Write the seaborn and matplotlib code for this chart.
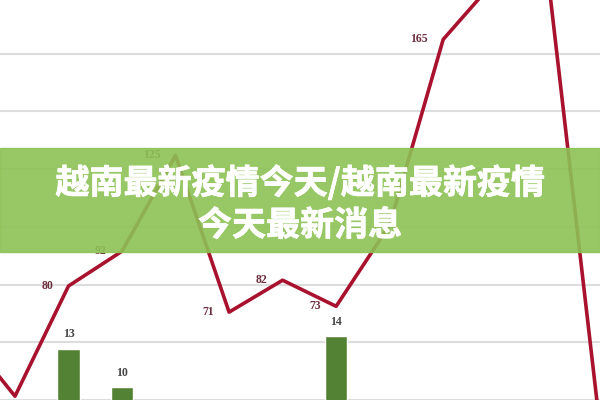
import matplotlib
matplotlib.use("Agg")
import matplotlib.pyplot as plt
import matplotlib.patheffects as pe
import seaborn as sns
import pandas as pd

##############
# data
##############
idx = list(range(13))
cases = [65, 42, 80, 92, 125, 71, 82, 73, 101, 165, 186, 180, 20]
case_labels = ['', '', '80', '92', '125', '71', '82', '73', '', '165', '', '', '']
deaths = [0, 0, 13, 10, 0, 0, 0, 14, 0, 0, 0, 0, 0]
death_labels = ['', '', '13', '10', '', '', '', '14', '', '', '', '', '']

title_1 = "越南最新疫情今天/越南最新疫情"
title_2 = "今天最新消息"

df = pd.DataFrame({'idx': idx, 'cases': cases, 'deaths': deaths})

##############
# plot
##############
sns.set_style("white")
plt.rcParams['font.family'] = ['Noto Sans CJK SC', 'DejaVu Sans']

fig = plt.figure(figsize=(6, 4), dpi=100)
ax = fig.add_axes([0, 0, 1, 1])
ax2 = ax.twinx()

# bars on secondary axis (grid lives here so bars sit on top of it)
sns.barplot(x='idx', y='deaths', data=df, ax=ax2, color='#548235',
            width=0.42, saturation=1, order=idx, zorder=3)
for i, lab in enumerate(death_labels):
    if lab:
        ax2.annotate(lab, (i, deaths[i]), xytext=(0, 6), textcoords='offset points',
                     ha='center', va='bottom', fontsize=8.5, color='#444444',
                     family='Liberation Serif', fontweight='bold')
ax2.set_ylim(9.1575, 40.185)
ax2.set_yticks([9, 13.5, 18, 22.5, 27, 31.5, 36])
ax2.yaxis.grid(True, color='#DDDDDD', linewidth=1.5, zorder=0)
ax2.set_axisbelow(True)

# line on primary axis
sns.lineplot(x='idx', y='cases', data=df, ax=ax, color='#A8122E', linewidth=2.6)
for i, lab in enumerate(case_labels):
    if lab:
        ax.annotate(lab, (i, cases[i]), xytext=(-11, 0), textcoords='offset points',
                    ha='right', va='center', fontsize=8.5, color='#6B2E3E',
                    family='Liberation Serif', fontweight='bold')
ax.set_ylim(40.7, 178.6)
ax.grid(False)
ax.set_zorder(ax2.get_zorder() + 1)
ax.patch.set_visible(False)

for a in (ax, ax2):
    a.set_xlim(0.72, 11.93)
    a.set_xlabel('')
    a.set_ylabel('')
    a.tick_params(left=False, right=False, bottom=False,
                  labelleft=False, labelright=False, labelbottom=False)
    for s in a.spines.values():
        s.set_visible(False)

# green banner with title
fig.patches.append(plt.Rectangle((0, 0.37), 1, 0.26, transform=fig.transFigure,
                                 color='#8DC255', alpha=0.9, zorder=10))
thick = [pe.withStroke(linewidth=0.5, foreground='white')]
fig.text(0.5, 0.543, title_1, ha='center', va='center', fontsize=24.5,
         fontweight='bold', color='white', zorder=11, path_effects=thick)
fig.text(0.5, 0.437, title_2, ha='center', va='center', fontsize=24.5,
         fontweight='bold', color='white', zorder=11, path_effects=thick)

plt.savefig('out.png', dpi=100)
